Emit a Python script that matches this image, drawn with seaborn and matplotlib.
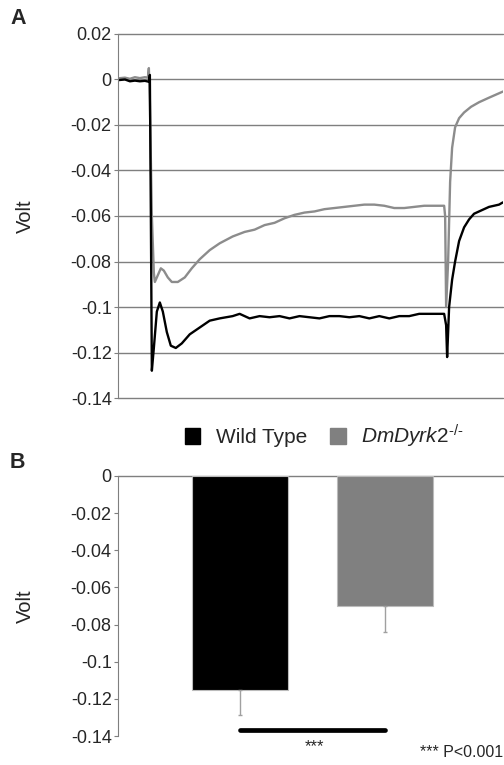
import numpy as np
import pandas as pd
import seaborn as sns
import matplotlib.pyplot as plt
from matplotlib.patches import Patch

# Panel A - traces (time in s, volt)
wt_time = [0.00, 0.07, 0.12, 0.17, 0.22, 0.27, 0.31, 0.32, 0.33, 0.34, 0.36, 0.39, 0.42, 0.45,
           0.49, 0.53, 0.58, 0.64, 0.72, 0.82, 0.92, 1.02, 1.15, 1.22, 1.32, 1.42, 1.52, 1.62,
           1.72, 1.82, 1.92, 2.02, 2.12, 2.22, 2.32, 2.42, 2.52, 2.62, 2.72, 2.82, 2.92, 3.02,
           3.12, 3.22, 3.27, 3.29, 3.30, 3.32, 3.35, 3.38, 3.42, 3.47, 3.52, 3.57, 3.62, 3.72,
           3.82, 3.86]
wt_volt = [-0.0003, 0.0000, -0.0008, -0.0005, -0.0008, -0.0006, -0.0010, 0.0020, -0.0600, -0.1280,
           -0.1180, -0.1020, -0.0980, -0.1020, -0.1110, -0.1170, -0.1180, -0.1160, -0.1120, -0.1090,
           -0.1060, -0.1050, -0.1040, -0.1030, -0.1050, -0.1040, -0.1045, -0.1040, -0.1050, -0.1040,
           -0.1045, -0.1050, -0.1040, -0.1040, -0.1045, -0.1040, -0.1050, -0.1040, -0.1050, -0.1040,
           -0.1040, -0.1030, -0.1030, -0.1030, -0.1030, -0.1080, -0.1220, -0.1000, -0.0880, -0.0800,
           -0.0710, -0.0650, -0.0615, -0.0590, -0.0580, -0.0560, -0.0550, -0.0540]

mut_time = [0.00, 0.07, 0.12, 0.17, 0.22, 0.27, 0.30, 0.31, 0.32, 0.34, 0.36, 0.37, 0.40, 0.43,
            0.46, 0.50, 0.54, 0.60, 0.67, 0.74, 0.82, 0.92, 1.02, 1.15, 1.27, 1.37, 1.47, 1.57,
            1.67, 1.77, 1.87, 1.97, 2.07, 2.17, 2.27, 2.37, 2.47, 2.57, 2.67, 2.77, 2.87, 2.97,
            3.07, 3.17, 3.27, 3.28, 3.29, 3.31, 3.33, 3.35, 3.38, 3.42, 3.47, 3.54, 3.62, 3.72,
            3.86]
mut_volt = [0.0005, 0.0008, 0.0003, 0.0010, 0.0006, 0.0010, 0.0008, 0.0050, -0.0100, -0.0600,
            -0.0850, -0.0890, -0.0860, -0.0830, -0.0840, -0.0870, -0.0890, -0.0890, -0.0870, -0.0830,
            -0.0790, -0.0750, -0.0720, -0.0690, -0.0670, -0.0660, -0.0640, -0.0630, -0.0610, -0.0595,
            -0.0585, -0.0580, -0.0570, -0.0565, -0.0560, -0.0555, -0.0550, -0.0550, -0.0555, -0.0565,
            -0.0565, -0.0560, -0.0555, -0.0555, -0.0555, -0.0600, -0.1000, -0.0800, -0.0450, -0.0300,
            -0.0210, -0.0170, -0.0145, -0.0120, -0.0100, -0.0080, -0.0053]

# Panel B - mean amplitude and error
groups = ["Wild Type", "DmDyrk2-/-"]
means = [-0.1152, -0.0698]
errs = [0.0135, 0.0142]
bar_colors = ["#000000", "#808080"]

sns.set_style("white")
plt.rcParams['font.family'] = ['Liberation Sans', 'DejaVu Sans']
plt.rcParams['mathtext.fontset'] = 'custom'
plt.rcParams['mathtext.rm'] = 'Liberation Sans'
plt.rcParams['mathtext.it'] = 'Liberation Sans:italic'

fig = plt.figure(figsize=(5.04, 7.65), dpi=100)
axA = fig.add_axes([0.234, 0.4797, 0.764, 0.4759])
axB = fig.add_axes([0.234, 0.0379, 0.764, 0.3399])

grid_c = "#7f7f7f"
fs = 13
ticks_a = ["-0.14", "-0.12", "-0.1", "-0.08", "-0.06", "-0.04", "-0.02", "0", "0.02"]

# --- A ---
traces = pd.concat([
    pd.DataFrame({"time": wt_time, "volt": wt_volt, "genotype": "Wild Type"}),
    pd.DataFrame({"time": mut_time, "volt": mut_volt, "genotype": "DmDyrk2-/-"}),
])
sns.lineplot(data=traces, x="time", y="volt", hue="genotype", hue_order=groups[::-1],
             palette={"Wild Type": "#000000", "DmDyrk2-/-": "#8c8c8c"},
             linewidth=1.7, legend=False, ax=axA, estimator=None, sort=False)
axA.set_xlim(0, 3.86)
axA.set_ylim(-0.14, 0.02)
axA.set_yticks(np.arange(-0.14, 0.021, 0.02))
axA.set_yticklabels(ticks_a)
axA.set_xticks([])
axA.set_xlabel("")
axA.set_ylabel("Volt", fontsize=14.5, labelpad=26)
for yv in np.arange(-0.14, 0.021, 0.02):
    axA.axhline(yv, color=grid_c, lw=1.0, zorder=0, clip_on=False)
for s in ["top", "right", "bottom"]:
    axA.spines[s].set_visible(False)
axA.spines["left"].set_color(grid_c)
axA.tick_params(axis="y", direction="out", length=3, color=grid_c, labelsize=fs, left=True, pad=1.5)

# --- B ---
sns.barplot(x=groups, y=means, hue=groups, palette=bar_colors, width=0.66,
            edgecolor="#bbbbbb", linewidth=0.8, legend=False, ax=axB)
axB.errorbar([0, 1], means, yerr=[errs, [0, 0]], fmt="none", ecolor="#a0a0a0",
             elinewidth=1.0, capsize=1.5, capthick=1.0)
axB.set_xlim(-0.838, 1.814)
axB.set_ylim(-0.14, 0)
axB.set_yticks(np.arange(-0.14, 0.001, 0.02))
axB.set_yticklabels(ticks_a[:-1])
axB.set_xticks([])
axB.set_ylabel("Volt", fontsize=14.5, labelpad=26)
axB.axhline(0, color=grid_c, lw=1.0, zorder=0, clip_on=False)
for s in ["top", "right", "bottom"]:
    axB.spines[s].set_visible(False)
axB.spines["left"].set_color(grid_c)
axB.tick_params(axis="y", direction="out", length=3, color=grid_c, labelsize=fs, left=True, pad=1.5)
axB.plot([0, 1], [-0.1368, -0.1368], color="black", lw=3.4, solid_capstyle="round", clip_on=False)
axB.text(0.515, -0.1455, "***", ha="center", va="center", fontsize=12, clip_on=False)
fig.text(0.998, 0.0157, "*** P<0.001", ha="right", va="center", fontsize=11.5)

# legend between panels
handles = [Patch(facecolor="#000000", edgecolor="#000000"),
           Patch(facecolor="#808080", edgecolor="#808080")]
labels = ["Wild Type", "$\\mathit{DmDyrk2}^{\\mathrm{\u2010/\u2010}}$"]
fig.legend(handles, labels, loc="center", bbox_to_anchor=(0.643, 0.43), ncol=2,
           frameon=False, fontsize=15, handlelength=0.75, handleheight=0.75,
           handletextpad=0.75, columnspacing=1.1)

fig.text(0.02, 0.976, "A", fontsize=15.5, fontweight="bold", ha="left", va="center")
fig.text(0.02, 0.396, "B", fontsize=15.5, fontweight="bold", ha="left", va="center")

fig.savefig("out.png", dpi=100)
